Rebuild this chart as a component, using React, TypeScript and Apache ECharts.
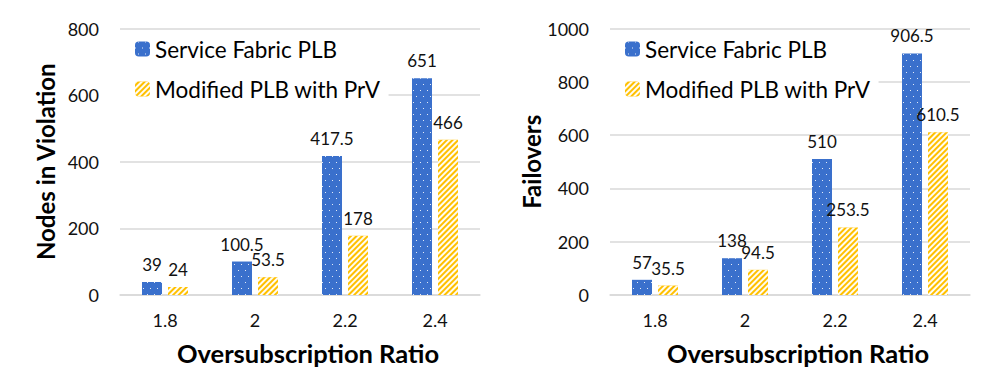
import React, { useEffect, useRef } from "react";
import * as echarts from "echarts";

const categories = ["1.8", "2", "2.2", "2.4"];
const seriesNames = ["Service Fabric PLB", "Modified PLB with PrV"];
const violationSF = [39, 100.5, 417.5, 651];
const violationPrV = [24, 53.5, 178, 466];
const failoverSF = [57, 138, 510, 906.5];
const failoverPrV = [35.5, 94.5, 253.5, 610.5];

const FONT = "Lato, 'Open Sans', sans-serif";
const BLUE = "#3a70cc";
const YELLOW = "#ffc000";

const dotDecal = {
  symbol: "rect",
  symbolSize: 1,
  color: "rgba(255,255,255,0.85)",
  dashArrayX: [
    [1, 6],
    [0, 3, 1, 3],
  ],
  dashArrayY: [1, 5],
};

const stripeDecal = {
  symbol: "rect",
  symbolSize: 1,
  color: "rgba(255,255,255,0.95)",
  dashArrayX: [1, 0],
  dashArrayY: [2, 2],
  rotation: -Math.PI / 4,
};

function barSeries(name: string, data: number[], idx: number, isBlue: boolean) {
  return {
    name,
    type: "bar",
    xAxisIndex: idx,
    yAxisIndex: idx,
    data,
    barWidth: 20,
    barGap: "30%",
    itemStyle: {
      color: isBlue ? BLUE : YELLOW,
      decal: isBlue ? dotDecal : stripeDecal,
    },
    label: {
      show: true,
      position: "top",
      distance: 9,
      fontSize: 17,
      fontFamily: FONT,
      color: "#111",
    },
  };
}

export default function App() {
  const ref = useRef<HTMLDivElement>(null);
  useEffect(() => {
    if (!ref.current) return;
    const chart = echarts.init(ref.current, undefined, { renderer: "svg" });
    const xAxisCommon = {
      type: "category",
      data: categories,
      name: "Oversubscription Ratio",
      nameLocation: "middle",
      nameGap: 45,
      nameTextStyle: {
        fontFamily: FONT,
        fontWeight: "bold",
        fontSize: 25.5,
        color: "#000",
        padding: [0, 0, 0, 16],
      },
      axisTick: { show: false },
      axisLine: { lineStyle: { color: "#d9d9d9", width: 1.5 } },
      axisLabel: { fontFamily: FONT, fontSize: 18, color: "#111", margin: 16 },
    };
    const yAxisCommon = {
      type: "value",
      min: 0,
      interval: 200,
      nameLocation: "middle",
      nameTextStyle: {
        fontFamily: FONT,
        fontWeight: "bold",
        fontSize: 24,
        color: "#000",
      },
      axisLine: { show: false },
      axisTick: { show: false },
      axisLabel: {
        fontFamily: FONT,
        fontSize: 18,
        color: "#111",
        margin: 21,
        formatter: (v: number) => String(v),
      },
      splitLine: { lineStyle: { color: "#d9d9d9", width: 1.5 } },
    };
    const legendCommon = {
      orient: "vertical",
      top: 30,
      backgroundColor: "#fff",
      padding: [6, 8, 10, 15],
      itemWidth: 15,
      itemHeight: 15,
      itemGap: 14,
      textStyle: { fontFamily: FONT, fontSize: 22.5, color: "#000", lineHeight: 26 },
      data: seriesNames,
    };
    chart.setOption({
      animation: false,
      backgroundColor: "#fff",
      grid: [
        { left: 120, right: 512, top: 28.5, bottom: 93 },
        { left: 610, right: 22, top: 28.5, bottom: 93 },
      ],
      legend: [
        { ...legendCommon, left: 120 },
        { ...legendCommon, left: 610 },
      ],
      xAxis: [
        { ...xAxisCommon, gridIndex: 0 },
        { ...xAxisCommon, gridIndex: 1 },
      ],
      yAxis: [
        { ...yAxisCommon, gridIndex: 0, max: 800, name: "Nodes in Violation", nameGap: 63 },
        { ...yAxisCommon, gridIndex: 1, max: 1000, name: "Failovers", nameGap: 67 },
      ],
      series: [
        barSeries(seriesNames[0], violationSF, 0, true),
        barSeries(seriesNames[1], violationPrV, 0, false),
        barSeries(seriesNames[0], failoverSF, 1, true),
        barSeries(seriesNames[1], failoverPrV, 1, false),
      ],
    });
    return () => chart.dispose();
  }, []);
  return (
    <div
      ref={ref}
      style={{ position: "fixed", left: 0, top: 0, width: 992, height: 388 }}
    />
  );
}
